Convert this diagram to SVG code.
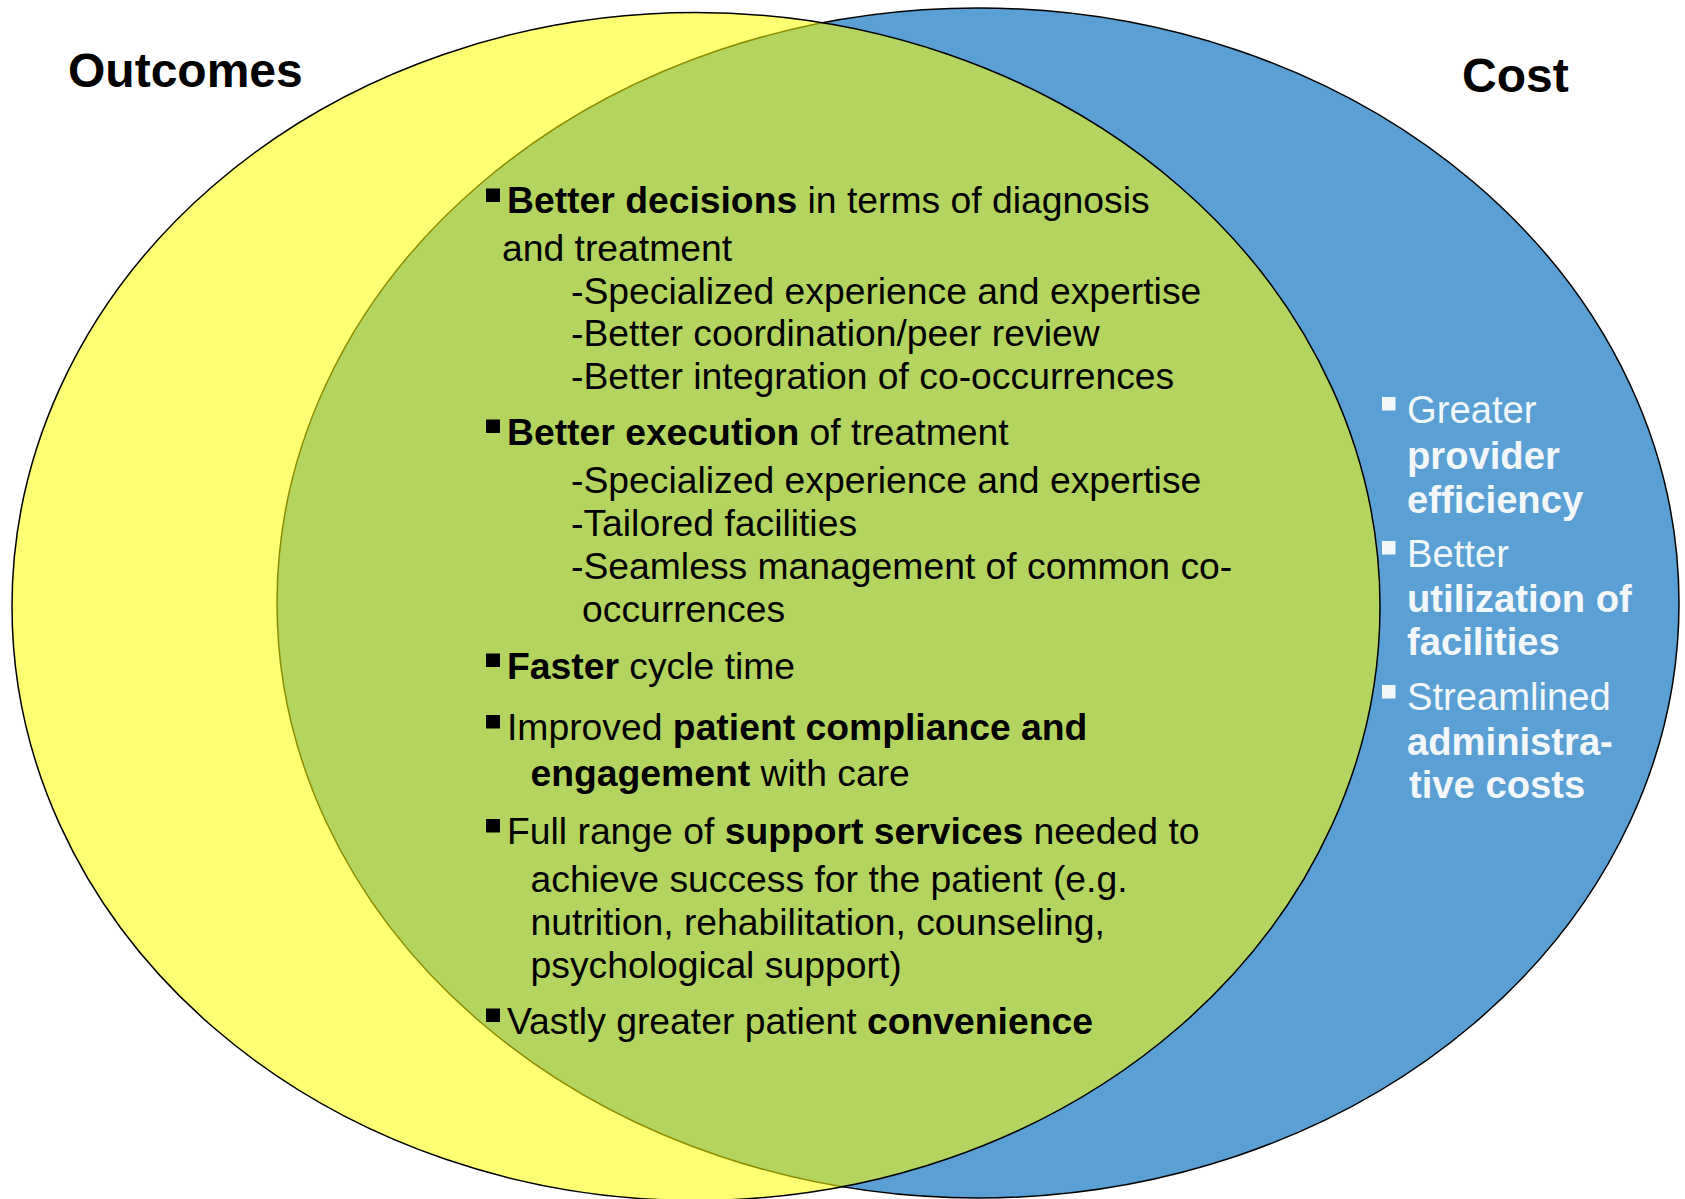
<svg xmlns="http://www.w3.org/2000/svg" width="1685" height="1199" viewBox="0 0 1685 1199">
  <style>
    .title { font-family: "Liberation Sans", Arial, sans-serif; font-weight: bold; font-size: 48px; fill: #000; }
    .body { font-family: "Liberation Sans", Arial, sans-serif; font-size: 37.3px; fill: #000; }
    .side { font-family: "Liberation Sans", Arial, sans-serif; font-size: 38.2px; fill: #F4F7FA; }
    .b { font-weight: bold; }
    .bul { fill: #000; }
    .wbul { fill: #F4F7FA; }
  </style>
  <rect x="0" y="0" width="1685" height="1199" fill="#FFFFFF"/>

  <g id="cost-circle">
    <ellipse cx="978" cy="603" rx="701" ry="595" fill="#5AA0D4" stroke="#000" stroke-width="1.5"/>
  </g>
  <g id="outcomes-circle">
    <ellipse cx="696" cy="606.5" rx="684" ry="594" fill="#FFFF00" fill-opacity="0.55" stroke="#000" stroke-width="1.5"/>
  </g>

  <g id="connectors"/>

  <g id="outcomes-title">
    <text class="title" x="68" y="87">Outcomes</text>
  </g>
  <g id="cost-title">
    <text class="title" x="1462" y="92">Cost</text>
  </g>

  <g id="overlap-node">
    <rect class="bul" x="486" y="188.5" width="14" height="13.5"/>
    <text class="body" x="507" y="213">
      <tspan class="b">Better decisions</tspan> in terms of diagnosis</text>
    <text class="body" x="502" y="260.5">and treatment</text>
    <text class="body" x="571" y="303.5">-Specialized experience and expertise</text>
    <text class="body" x="571" y="346">-Better coordination/peer review</text>
    <text class="body" x="571" y="389">-Better integration of co-occurrences</text>

    <rect class="bul" x="486" y="419.5" width="14" height="13.5"/>
    <text class="body" x="507" y="444.5"><tspan class="b">Better execution</tspan> of treatment</text>
    <text class="body" x="571" y="492.5">-Specialized experience and expertise</text>
    <text class="body" x="571" y="536">-Tailored facilities</text>
    <text class="body" x="571" y="579">-Seamless management of common co-</text>
    <text class="body" x="582" y="621.5">occurrences</text>

    <rect class="bul" x="486" y="653.5" width="14" height="13.5"/>
    <text class="body" x="507" y="678.5"><tspan class="b">Faster</tspan> cycle time</text>

    <rect class="bul" x="486" y="715" width="14" height="13.5"/>
    <text class="body" x="507" y="740">Improved <tspan class="b">patient compliance and</tspan></text>
    <text class="body" x="530.5" y="786"><tspan class="b">engagement</tspan> with care</text>

    <rect class="bul" x="486" y="819" width="14" height="13.5"/>
    <text class="body" x="507" y="844">Full range of <tspan class="b">support services</tspan> needed to</text>
    <text class="body" x="530.5" y="892">achieve success for the patient (e.g.</text>
    <text class="body" x="530.5" y="935">nutrition, rehabilitation, counseling,</text>
    <text class="body" x="530.5" y="977.5">psychological support)</text>

    <rect class="bul" x="486" y="1008.5" width="14" height="13.5"/>
    <text class="body" x="507" y="1033.5">Vastly greater patient <tspan class="b">convenience</tspan></text>
  </g>

  <g id="cost-node">
    <rect class="wbul" x="1382" y="397" width="13.5" height="13.5"/>
    <text class="side" x="1407" y="423">Greater</text>
    <text class="side b" x="1407" y="469">provider</text>
    <text class="side b" x="1407" y="513">efficiency</text>

    <rect class="wbul" x="1382" y="541" width="13.5" height="13.5"/>
    <text class="side" x="1407" y="566.5">Better</text>
    <text class="side b" x="1407" y="612">utilization of</text>
    <text class="side b" x="1407" y="655">facilities</text>

    <rect class="wbul" x="1382" y="685" width="13.5" height="13.5"/>
    <text class="side" x="1407" y="710">Streamlined</text>
    <text class="side b" x="1407" y="755">administra-</text>
    <text class="side b" x="1409" y="798">tive costs</text>
  </g>
</svg>
